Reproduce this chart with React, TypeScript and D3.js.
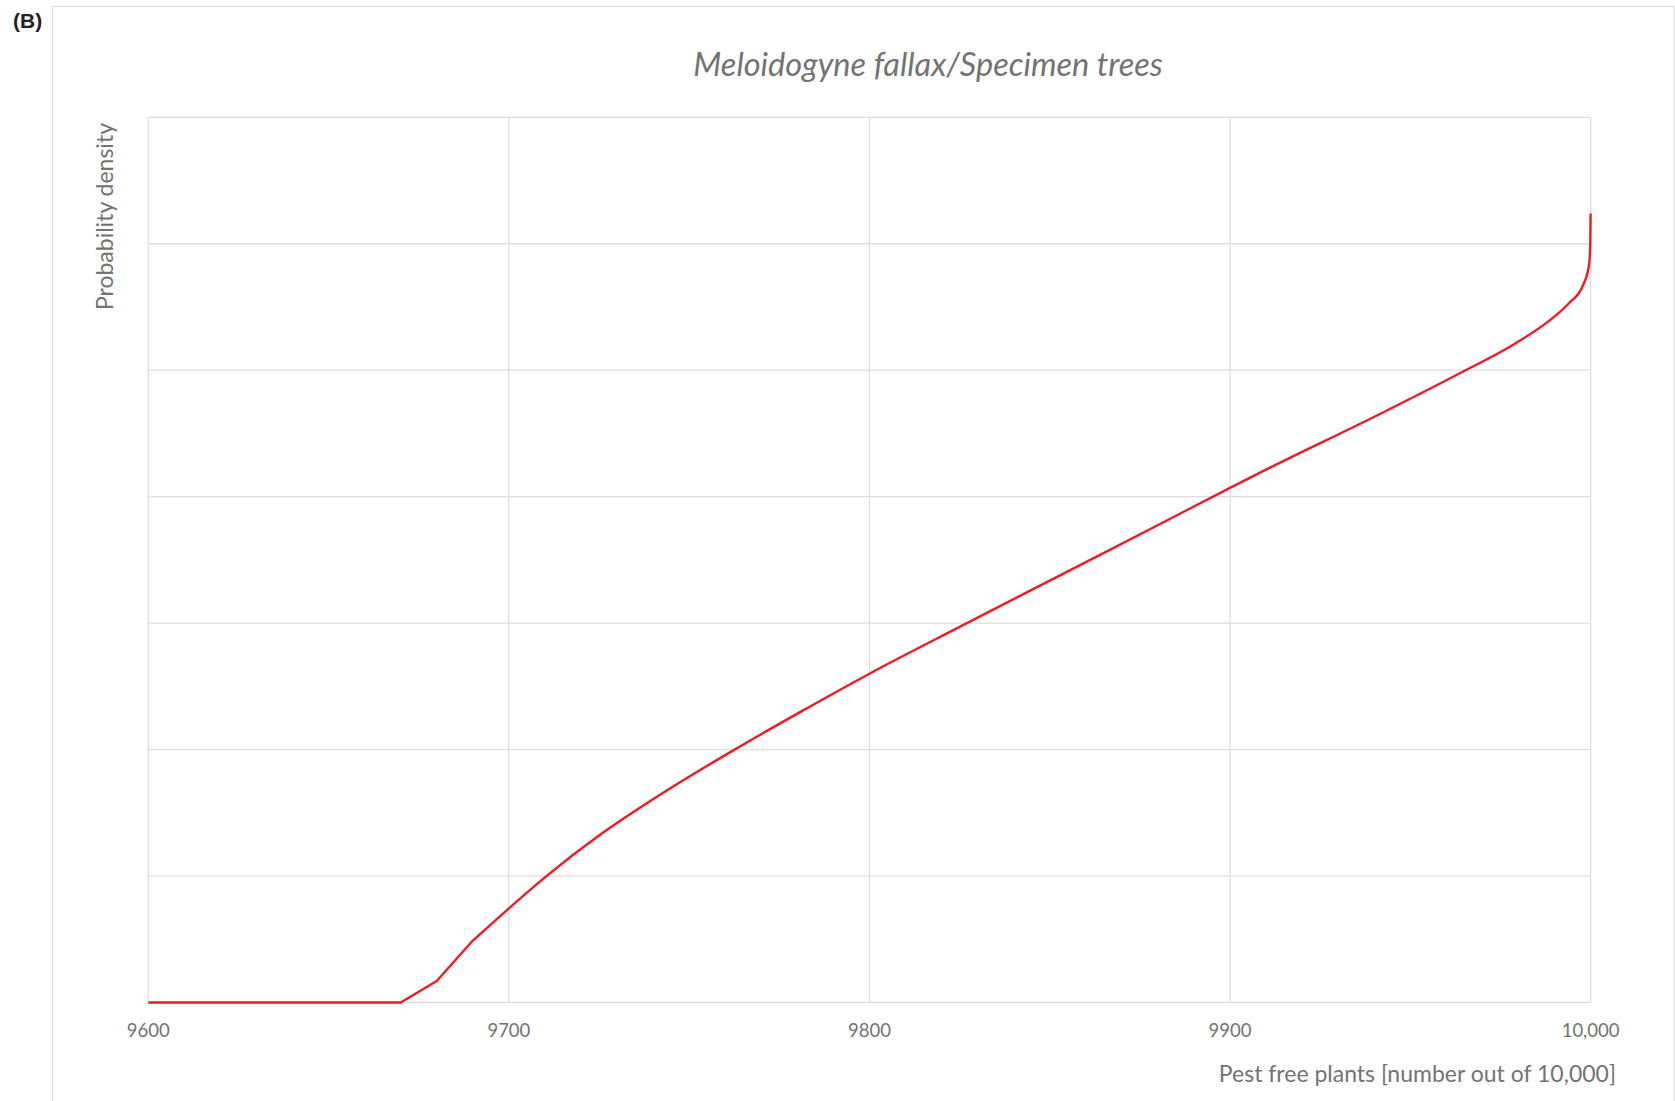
import React, { useEffect, useRef } from 'react'
import * as d3 from 'd3'

// values (x = pest free plants, y = density in gridline units)
const pestFree = [9600, 9670, 9680, 9690, 9700, 9710, 9725, 9744, 9762, 9781, 9800, 9825, 9853, 9881, 9900, 9909, 9942, 9964, 9979, 9988, 9994, 9997.7, 9999.5, 9999.9, 10000]
const density = [0, 0, 0.17, 0.49, 0.745, 0.99, 1.32, 1.68, 1.99, 2.3, 2.6, 2.97, 3.38, 3.79, 4.07, 4.2, 4.66, 4.98, 5.21, 5.38, 5.53, 5.66, 5.82, 5.98, 6.24]
const xTicks = [9600, 9700, 9800, 9900, 10000]
const yGrid = [0, 1, 2, 3, 4, 5, 6, 7]

const W = 1675
const H = 1101
const textColor = '#737373'
const gridColor = '#dedede'

const App: React.FC = () => {
  const svgRef = useRef<SVGSVGElement>(null)

  useEffect(() => {
    if (!svgRef.current) return
    const svg = d3.select(svgRef.current)
    svg.selectAll('*').remove()

    const plot = { left: 148.3, right: 1590.6, top: 117.3, bottom: 1002.5 }

    const x = d3.scaleLinear().domain([9600, 10000]).range([plot.left, plot.right])
    const y = d3.scaleLinear().domain([0, 7]).range([plot.bottom, plot.top])

    // outer chart frame
    svg.append('rect')
      .attr('x', 52.5).attr('y', 6.5)
      .attr('width', 1622).attr('height', 1200)
      .attr('fill', 'white')
      .attr('stroke', gridColor).attr('stroke-width', 1.3)

    // (B) label
    svg.append('text')
      .attr('x', 13).attr('y', 28)
      .style('font-family', '"Liberation Sans", Arial, sans-serif')
      .style('font-weight', 'bold')
      .style('font-size', '21px')
      .style('fill', '#222')
      .text('(B)')

    // gridlines
    const g = svg.append('g')
    g.selectAll('.hgrid')
      .data(yGrid)
      .enter()
      .append('line')
      .attr('x1', plot.left).attr('x2', plot.right)
      .attr('y1', d => y(d)).attr('y2', d => y(d))
      .attr('stroke', gridColor).attr('stroke-width', 1.3)

    g.selectAll('.vgrid')
      .data(xTicks)
      .enter()
      .append('line')
      .attr('x1', d => x(d)).attr('x2', d => x(d))
      .attr('y1', plot.top).attr('y2', plot.bottom)
      .attr('stroke', gridColor).attr('stroke-width', 1.3)

    // tick labels
    g.selectAll('.xtick')
      .data(xTicks)
      .enter()
      .append('text')
      .attr('x', d => x(d))
      .attr('y', 1037)
      .attr('text-anchor', 'middle')
      .style('font-family', 'Lato, "Open Sans", sans-serif')
      .style('font-size', '18.5px')
      .style('fill', textColor)
      .text(d => d3.format(d >= 10000 ? ',' : 'd')(d))

    // curve: straight segments at the foot (index 0..4), smooth afterwards
    const pts = pestFree.map((v, i) => [v, density[i]] as [number, number])
    const foot = d3.line<[number, number]>()
      .x(d => x(d[0]))
      .y(d => y(d[1]))
      .curve(d3.curveLinear)
    const body = d3.line<[number, number]>()
      .x(d => x(d[0]))
      .y(d => y(d[1]))
      .curve(d3.curveMonotoneX)

    const red = '#f01a22'
    svg.append('path')
      .datum(pts.slice(0, 5))
      .attr('d', foot)
      .attr('fill', 'none')
      .attr('stroke', red)
      .attr('stroke-width', 2.4)
      .attr('stroke-linejoin', 'round')

    svg.append('path')
      .datum(pts.slice(4))
      .attr('d', body)
      .attr('fill', 'none')
      .attr('stroke', red)
      .attr('stroke-width', 2.4)
      .attr('stroke-linejoin', 'round')

    // title
    svg.append('text')
      .attr('x', 928)
      .attr('y', 76)
      .attr('text-anchor', 'middle')
      .style('font-family', 'Lato, "Open Sans", sans-serif')
      .style('font-style', 'italic')
      .style('font-size', '32.5px')
      .style('fill', textColor)
      .text('Meloidogyne fallax/Specimen trees')

    // axis titles
    svg.append('text')
      .attr('x', 1616)
      .attr('y', 1082)
      .attr('text-anchor', 'end')
      .style('font-family', 'Lato, "Open Sans", sans-serif')
      .style('font-size', '23px')
      .style('fill', textColor)
      .text('Pest free plants [number out of 10,000]')

    svg.append('text')
      .attr('transform', 'translate(113,123) rotate(-90)')
      .attr('text-anchor', 'end')
      .style('font-family', 'Lato, "Open Sans", sans-serif')
      .style('font-size', '23px')
      .style('fill', textColor)
      .text('Probability density')
  }, [])

  return (
    <div style={{ position: 'absolute', left: 0, top: 0 }}>
      <svg ref={svgRef} width={W} height={H} style={{ display: 'block', background: 'white' }} />
    </div>
  )
}

export default App
